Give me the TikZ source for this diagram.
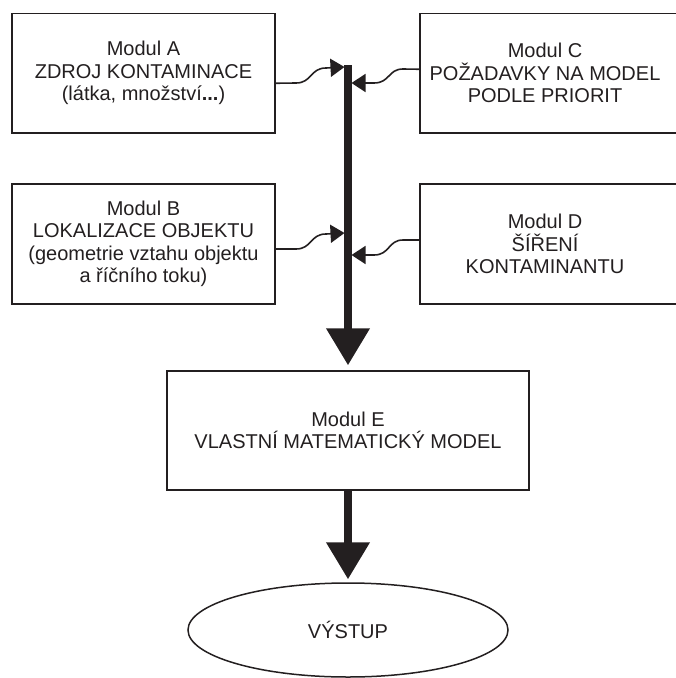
\documentclass[tikz,border=0pt]{standalone}
\usepackage{fontspec}
\setmainfont{Liberation Sans}
\usetikzlibrary{arrows.meta,shapes.geometric}
\definecolor{ink}{HTML}{231F20}
\begin{document}
\begin{tikzpicture}[x=1pt,y=-1pt,
  every node/.style={font=\fontsize{20}{22.5}\selectfont, text=ink},
  modbox/.style={draw=ink, line width=1.5pt, rectangle, inner sep=0pt, align=center},
  lbl/.style={inner sep=0pt, align=center},
  wave/.style={draw=ink, line width=1.6pt, -{Triangle[width=18pt,length=14pt]}},
  bigarrow/.style={draw=ink, line width=7.5pt, -{Triangle[width=42pt,length=37pt]}}
]
\useasboundingbox (0,0) rectangle (676,678);
% boxes
\node[modbox, minimum width=263pt, minimum height=119.5pt] (A) at (143.5,73.25)
  {Modul A\\ZDROJ KONTAMINACE\\(látka, množství\textbf{...})};
\node[modbox, minimum width=263pt, minimum height=120pt] (B) at (143.5,244)
  {Modul B\\LOKALIZACE OBJEKTU\\(geometrie vztahu objektu\\a říčního toku)};
\node[modbox, minimum width=260pt, minimum height=119.5pt] (C) at (550,73.25) {};
\node[lbl] (Ct) at (545,73.25) {Modul C\\POŽADAVKY NA MODEL\\PODLE PRIORIT};
\node[modbox, minimum width=260pt, minimum height=120pt] (D) at (550,244) {};
\node[lbl] (Dt) at (545,244) {Modul D\\ŠÍŘENÍ\\KONTAMINANTU};
\node[modbox, minimum width=362pt, minimum height=119pt] (E) at (348,430.5)
  {Modul E\\VLASTNÍ MATEMATICKÝ MODEL};
\node[draw=ink, line width=1.5pt, ellipse, minimum width=320pt, minimum height=94pt, inner sep=0pt] (V) at (348,630) {VÝSTUP};
% bus
\coordinate (bustop) at (348,65);
\coordinate (inA) at (344.5,67);
\coordinate (inB) at (344.5,233);
\coordinate (inC) at (351.5,83);
\coordinate (inD) at (351.5,255);
\draw[bigarrow, shorten >=5pt] (bustop) -- (bustop |- E.north);
\draw[bigarrow, shorten >=3pt] (E.south) -- (V.north);
% wavy connectors
\draw[wave] ([yshift=-10pt]A.east) -- (296,83) .. controls (312,83) and (310,68) .. (326,68) -- (inA);
\draw[wave] ([yshift=-5pt]B.east) -- (296,249) .. controls (312,249) and (310,234) .. (326,234) -- (inB);
\draw[wave] ([yshift=4pt]C.west) -- (403,69) .. controls (388,69) and (390,83) .. (374,83) -- (inC);
\draw[wave] ([yshift=4pt]D.west) -- (403,240) .. controls (388,240) and (390,255) .. (374,255) -- (inD);
\end{tikzpicture}
\end{document}
